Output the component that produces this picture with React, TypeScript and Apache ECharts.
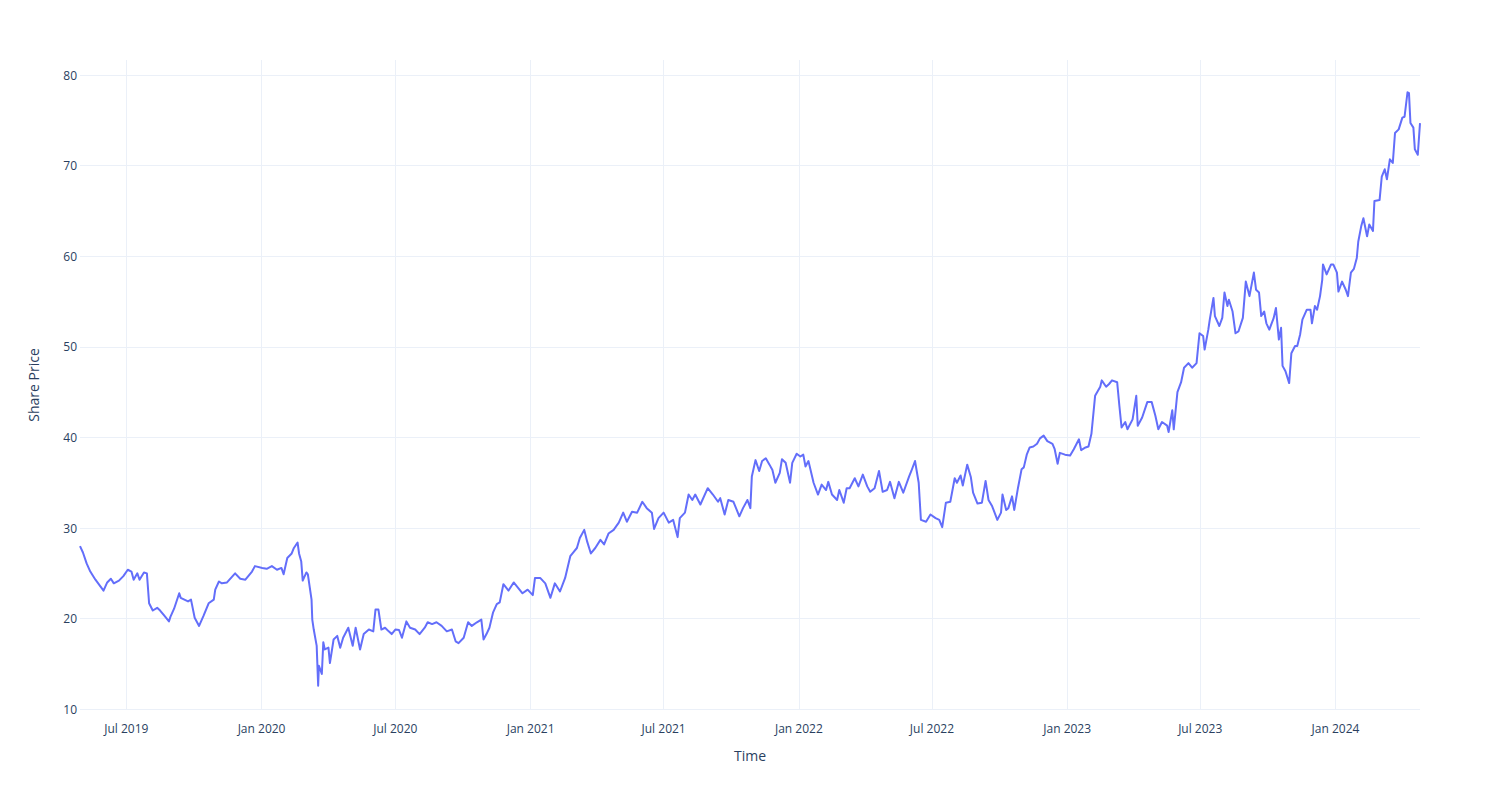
import React, { useEffect, useRef } from "react";
import * as echarts from "echarts";

// Share price readings (date, value) by year
const pts2019: [string, number][] = [
  ["2019-04-29", 28.0], ["2019-05-03", 27.3], ["2019-05-08", 26.1], ["2019-05-13", 25.2], ["2019-05-20", 24.3],
  ["2019-05-31", 23.1], ["2019-06-05", 24.0], ["2019-06-10", 24.4], ["2019-06-14", 23.9], ["2019-06-21", 24.2],
  ["2019-06-27", 24.7], ["2019-07-03", 25.4], ["2019-07-08", 25.2], ["2019-07-11", 24.3], ["2019-07-16", 25.0],
  ["2019-07-19", 24.3], ["2019-07-25", 25.1], ["2019-07-29", 25.0], ["2019-08-01", 21.7], ["2019-08-06", 20.9],
  ["2019-08-12", 21.2], ["2019-08-16", 20.9], ["2019-08-22", 20.3], ["2019-08-28", 19.7], ["2019-08-30", 20.2],
  ["2019-09-04", 21.1], ["2019-09-11", 22.8], ["2019-09-13", 22.3], ["2019-09-23", 21.9], ["2019-09-27", 22.1],
  ["2019-10-02", 20.1], ["2019-10-08", 19.2], ["2019-10-14", 20.3], ["2019-10-21", 21.7], ["2019-10-28", 22.1],
  ["2019-10-30", 23.2], ["2019-11-04", 24.1], ["2019-11-08", 23.9], ["2019-11-15", 24.0], ["2019-11-26", 25.0],
  ["2019-12-03", 24.4], ["2019-12-10", 24.3], ["2019-12-19", 25.2], ["2019-12-23", 25.8],
];

const pts2020: [string, number][] = [
  ["2020-01-02", 25.6], ["2020-01-08", 25.5], ["2020-01-15", 25.8], ["2020-01-22", 25.4], ["2020-01-28", 25.6],
  ["2020-01-31", 24.9], ["2020-02-05", 26.7], ["2020-02-11", 27.2], ["2020-02-14", 27.8], ["2020-02-19", 28.4],
  ["2020-02-21", 27.2], ["2020-02-24", 26.3], ["2020-02-26", 24.2], ["2020-03-02", 25.1], ["2020-03-04", 24.9],
  ["2020-03-09", 22.1], ["2020-03-10", 19.9], ["2020-03-12", 18.8], ["2020-03-16", 17.0], ["2020-03-18", 12.6],
  ["2020-03-19", 14.8], ["2020-03-23", 13.9], ["2020-03-25", 17.4], ["2020-03-27", 16.6], ["2020-04-01", 16.8],
  ["2020-04-03", 15.1], ["2020-04-08", 17.7], ["2020-04-13", 18.1], ["2020-04-17", 16.8], ["2020-04-21", 17.9],
  ["2020-04-28", 19.0], ["2020-05-04", 17.0], ["2020-05-08", 19.0], ["2020-05-14", 16.6], ["2020-05-19", 18.3],
  ["2020-05-26", 18.8], ["2020-06-01", 18.6], ["2020-06-04", 21.0], ["2020-06-08", 21.0], ["2020-06-12", 18.8],
  ["2020-06-17", 19.0], ["2020-06-22", 18.6], ["2020-06-26", 18.3], ["2020-07-01", 18.8], ["2020-07-06", 18.75],
  ["2020-07-10", 17.9], ["2020-07-16", 19.7], ["2020-07-21", 19.0], ["2020-07-28", 18.8], ["2020-08-03", 18.3],
  ["2020-08-10", 19.0], ["2020-08-14", 19.6], ["2020-08-20", 19.4], ["2020-08-26", 19.6], ["2020-09-02", 19.2],
  ["2020-09-09", 18.6], ["2020-09-16", 18.8], ["2020-09-21", 17.5], ["2020-09-25", 17.3], ["2020-10-02", 17.9],
  ["2020-10-08", 19.6], ["2020-10-13", 19.2], ["2020-10-20", 19.6], ["2020-10-26", 19.9], ["2020-10-29", 17.7],
  ["2020-11-02", 18.3], ["2020-11-06", 19.0], ["2020-11-11", 20.7], ["2020-11-16", 21.6], ["2020-11-20", 21.8],
  ["2020-11-25", 23.8], ["2020-12-02", 23.1], ["2020-12-09", 24.0], ["2020-12-15", 23.4], ["2020-12-21", 22.8],
  ["2020-12-28", 23.2],
];

const pts2021: [string, number][] = [
  ["2021-01-04", 22.6], ["2021-01-07", 24.5], ["2021-01-14", 24.5], ["2021-01-21", 23.9], ["2021-01-28", 22.3],
  ["2021-02-03", 23.9], ["2021-02-10", 23.0], ["2021-02-17", 24.5], ["2021-02-24", 26.9], ["2021-03-01", 27.4],
  ["2021-03-05", 27.8], ["2021-03-09", 28.9], ["2021-03-15", 29.8], ["2021-03-19", 28.5], ["2021-03-24", 27.2],
  ["2021-03-30", 27.8], ["2021-04-06", 28.7], ["2021-04-11", 28.2], ["2021-04-17", 29.4], ["2021-04-24", 29.8],
  ["2021-05-01", 30.6], ["2021-05-07", 31.7], ["2021-05-12", 30.7], ["2021-05-19", 31.8], ["2021-05-26", 31.7],
  ["2021-06-02", 32.9], ["2021-06-08", 32.2], ["2021-06-15", 31.7], ["2021-06-18", 29.9], ["2021-06-24", 31.1],
  ["2021-07-01", 31.7], ["2021-07-08", 30.6], ["2021-07-14", 30.9], ["2021-07-20", 29.0], ["2021-07-23", 31.1],
  ["2021-07-30", 31.7], ["2021-08-04", 33.7], ["2021-08-09", 33.1], ["2021-08-13", 33.7], ["2021-08-20", 32.6],
  ["2021-08-30", 34.4], ["2021-09-06", 33.7], ["2021-09-13", 32.9], ["2021-09-16", 33.3], ["2021-09-22", 31.5],
  ["2021-09-27", 33.1], ["2021-10-04", 32.9], ["2021-10-12", 31.3], ["2021-10-17", 32.2], ["2021-10-23", 33.1],
  ["2021-10-27", 32.2], ["2021-10-29", 35.7], ["2021-11-03", 37.5], ["2021-11-08", 36.3], ["2021-11-12", 37.4],
  ["2021-11-17", 37.7], ["2021-11-22", 37.0], ["2021-11-26", 36.4], ["2021-11-30", 35.0], ["2021-12-06", 36.1],
  ["2021-12-09", 37.6], ["2021-12-14", 37.2], ["2021-12-20", 35.0], ["2021-12-23", 37.2], ["2021-12-29", 38.2],
];

const pts2022: [string, number][] = [
  ["2022-01-03", 37.9], ["2022-01-07", 38.1], ["2022-01-10", 36.8], ["2022-01-14", 37.4], ["2022-01-21", 35.0],
  ["2022-01-27", 33.7], ["2022-02-01", 34.8], ["2022-02-07", 34.2], ["2022-02-10", 35.1], ["2022-02-15", 33.7],
  ["2022-02-22", 33.1], ["2022-02-25", 34.2], ["2022-03-03", 32.8], ["2022-03-07", 34.4], ["2022-03-11", 34.4],
  ["2022-03-18", 35.5], ["2022-03-23", 34.6], ["2022-03-29", 35.9], ["2022-04-04", 34.6], ["2022-04-08", 34.0],
  ["2022-04-14", 34.4], ["2022-04-20", 36.3], ["2022-04-25", 34.0], ["2022-05-01", 34.2], ["2022-05-05", 35.1],
  ["2022-05-11", 33.3], ["2022-05-17", 35.1], ["2022-05-23", 33.9], ["2022-05-31", 35.7], ["2022-06-03", 36.3],
  ["2022-06-08", 37.4], ["2022-06-13", 35.0], ["2022-06-16", 30.9], ["2022-06-23", 30.7], ["2022-06-29", 31.5],
  ["2022-07-06", 31.1], ["2022-07-11", 30.9], ["2022-07-15", 30.1], ["2022-07-20", 32.8], ["2022-07-26", 32.9],
  ["2022-08-01", 35.5], ["2022-08-04", 35.0], ["2022-08-09", 35.8], ["2022-08-12", 34.7], ["2022-08-18", 37.0],
  ["2022-08-23", 35.6], ["2022-08-26", 33.9], ["2022-09-01", 32.7], ["2022-09-07", 32.8], ["2022-09-12", 35.2],
  ["2022-09-16", 33.1], ["2022-09-21", 32.4], ["2022-09-28", 30.9], ["2022-10-03", 31.7], ["2022-10-05", 33.7],
  ["2022-10-10", 32.0], ["2022-10-13", 32.2], ["2022-10-18", 33.5], ["2022-10-21", 32.0], ["2022-10-26", 34.4],
  ["2022-10-31", 36.5], ["2022-11-03", 36.7], ["2022-11-07", 38.1], ["2022-11-11", 38.9], ["2022-11-16", 39.0],
  ["2022-11-21", 39.3], ["2022-11-25", 39.9], ["2022-11-30", 40.2], ["2022-12-05", 39.6], ["2022-12-12", 39.3],
  ["2022-12-15", 38.7], ["2022-12-19", 37.1], ["2022-12-22", 38.3], ["2022-12-29", 38.1],
];

const pts2023: [string, number][] = [
  ["2023-01-05", 38.0], ["2023-01-10", 38.7], ["2023-01-17", 39.8], ["2023-01-20", 38.6], ["2023-01-26", 38.9],
  ["2023-01-30", 39.0], ["2023-02-03", 40.4], ["2023-02-08", 44.6], ["2023-02-15", 45.6], ["2023-02-17", 46.3],
  ["2023-02-23", 45.6], ["2023-02-27", 45.9], ["2023-03-03", 46.3], ["2023-03-10", 46.1], ["2023-03-13", 43.5],
  ["2023-03-16", 41.1], ["2023-03-21", 41.7], ["2023-03-24", 40.9], ["2023-03-31", 42.0], ["2023-04-05", 44.6],
  ["2023-04-07", 41.3], ["2023-04-13", 42.2], ["2023-04-20", 43.9], ["2023-04-26", 43.9], ["2023-05-01", 42.4],
  ["2023-05-05", 40.9], ["2023-05-10", 41.7], ["2023-05-17", 41.3], ["2023-05-19", 40.6], ["2023-05-24", 43.0],
  ["2023-05-26", 40.9], ["2023-05-31", 45.0], ["2023-06-05", 46.1], ["2023-06-09", 47.7], ["2023-06-15", 48.2],
  ["2023-06-20", 47.7], ["2023-06-26", 48.2], ["2023-06-30", 51.5], ["2023-07-05", 51.2], ["2023-07-07", 49.7],
  ["2023-07-12", 51.9], ["2023-07-14", 53.0], ["2023-07-19", 55.4], ["2023-07-21", 53.4], ["2023-07-27", 52.3],
  ["2023-07-31", 53.2], ["2023-08-03", 56.0], ["2023-08-07", 54.5], ["2023-08-09", 55.2], ["2023-08-14", 53.9],
  ["2023-08-18", 51.5], ["2023-08-22", 51.7], ["2023-08-28", 53.2], ["2023-09-01", 57.2], ["2023-09-06", 55.6],
  ["2023-09-12", 58.2], ["2023-09-15", 56.3], ["2023-09-19", 56.0], ["2023-09-22", 53.4], ["2023-09-26", 53.9],
  ["2023-09-29", 52.6], ["2023-10-03", 51.9], ["2023-10-09", 53.2], ["2023-10-12", 54.3], ["2023-10-16", 50.8],
  ["2023-10-19", 52.1], ["2023-10-21", 47.9], ["2023-10-25", 47.3], ["2023-10-30", 46.0], ["2023-11-02", 49.3],
  ["2023-11-07", 50.1], ["2023-11-10", 50.1], ["2023-11-14", 51.4], ["2023-11-17", 53.0], ["2023-11-23", 54.1],
  ["2023-11-28", 54.1], ["2023-11-30", 52.6], ["2023-12-04", 54.5], ["2023-12-07", 54.1], ["2023-12-11", 55.6],
  ["2023-12-14", 57.4], ["2023-12-15", 59.1], ["2023-12-20", 58.0], ["2023-12-26", 59.1], ["2023-12-29", 59.1],
];

const pts2024: [string, number][] = [
  ["2024-01-03", 58.2], ["2024-01-05", 56.1], ["2024-01-10", 57.2], ["2024-01-15", 56.3], ["2024-01-18", 55.6],
  ["2024-01-22", 58.2], ["2024-01-26", 58.6], ["2024-01-30", 59.8], ["2024-02-01", 61.6], ["2024-02-05", 63.3],
  ["2024-02-08", 64.2], ["2024-02-13", 62.2], ["2024-02-16", 63.5], ["2024-02-21", 62.8], ["2024-02-23", 66.1],
  ["2024-03-01", 66.2], ["2024-03-04", 68.8], ["2024-03-08", 69.6], ["2024-03-11", 68.5], ["2024-03-15", 70.7],
  ["2024-03-19", 70.3], ["2024-03-22", 73.6], ["2024-03-27", 74.0], ["2024-04-01", 75.3], ["2024-04-04", 75.4],
  ["2024-04-08", 78.1], ["2024-04-10", 78.0], ["2024-04-12", 74.7], ["2024-04-16", 74.2], ["2024-04-18", 71.8],
  ["2024-04-22", 71.2], ["2024-04-25", 74.7],
];

const X_TITLE = "Time";
const Y_TITLE = "Share Price";
const Y_RANGE: [number, number] = [9.92, 81.66];
const MONTHS = ["Jan", "Feb", "Mar", "Apr", "May", "Jun", "Jul", "Aug", "Sep", "Oct", "Nov", "Dec"];

const TEXT = "#2a3f5f";
const GRID = "#ebf0f8";
const FONT = "'Open Sans', verdana, arial, sans-serif";

export default function App() {
  const ref = useRef<HTMLDivElement>(null);
  useEffect(() => {
    if (!ref.current) return;
    const chart = echarts.init(ref.current, undefined, { renderer: "svg" });
    const data = [...pts2019, ...pts2020, ...pts2021, ...pts2022, ...pts2023, ...pts2024];
    chart.setOption({
      animation: false,
      backgroundColor: "#ffffff",
      grid: { left: 80, right: 80, top: 60, bottom: 90, containLabel: false },
      xAxis: {
        type: "time",
        min: data[0][0],
        max: data[data.length - 1][0],
        splitNumber: 10,
        name: X_TITLE,
        nameLocation: "middle",
        nameGap: 38,
        nameTextStyle: { color: TEXT, fontSize: 14, fontFamily: FONT },
        axisLine: { show: false },
        axisTick: { show: false },
        axisLabel: {
          color: TEXT,
          fontSize: 12,
          fontFamily: FONT,
          margin: 12,
          showMinLabel: false,
          showMaxLabel: false,
          formatter: (v: number) => {
            const d = new Date(v);
            return `${MONTHS[d.getMonth()]} ${d.getFullYear()}`;
          },
        },
        splitLine: { show: true, showMinLine: false, showMaxLine: false, lineStyle: { color: GRID, width: 1 } },
      },
      yAxis: {
        type: "value",
        min: Y_RANGE[0],
        max: Y_RANGE[1],
        splitNumber: 7,
        name: Y_TITLE,
        nameLocation: "middle",
        nameGap: 40,
        nameTextStyle: { color: TEXT, fontSize: 14, fontFamily: FONT },
        axisLine: { show: false },
        axisTick: { show: false },
        axisLabel: {
          color: TEXT,
          fontSize: 12,
          fontFamily: FONT,
          margin: 3,
          showMinLabel: false,
          showMaxLabel: false,
          formatter: (v: number) => (Math.abs(v - Math.round(v / 10) * 10) < 1e-6 ? String(v) : ""),
        },
        splitLine: { show: true, showMinLine: false, showMaxLine: false, lineStyle: { color: GRID, width: 1 } },
      },
      series: [
        {
          type: "line",
          data,
          showSymbol: false,
          symbol: "none",
          lineStyle: { color: "#636efa", width: 2, join: "round" },
          itemStyle: { color: "#636efa" },
        },
      ],
    });
    return () => chart.dispose();
  }, []);
  return (
    <div
      ref={ref}
      style={{ position: "fixed", left: 0, top: 0, width: 1500, height: 800, background: "#fff" }}
    />
  );
}
